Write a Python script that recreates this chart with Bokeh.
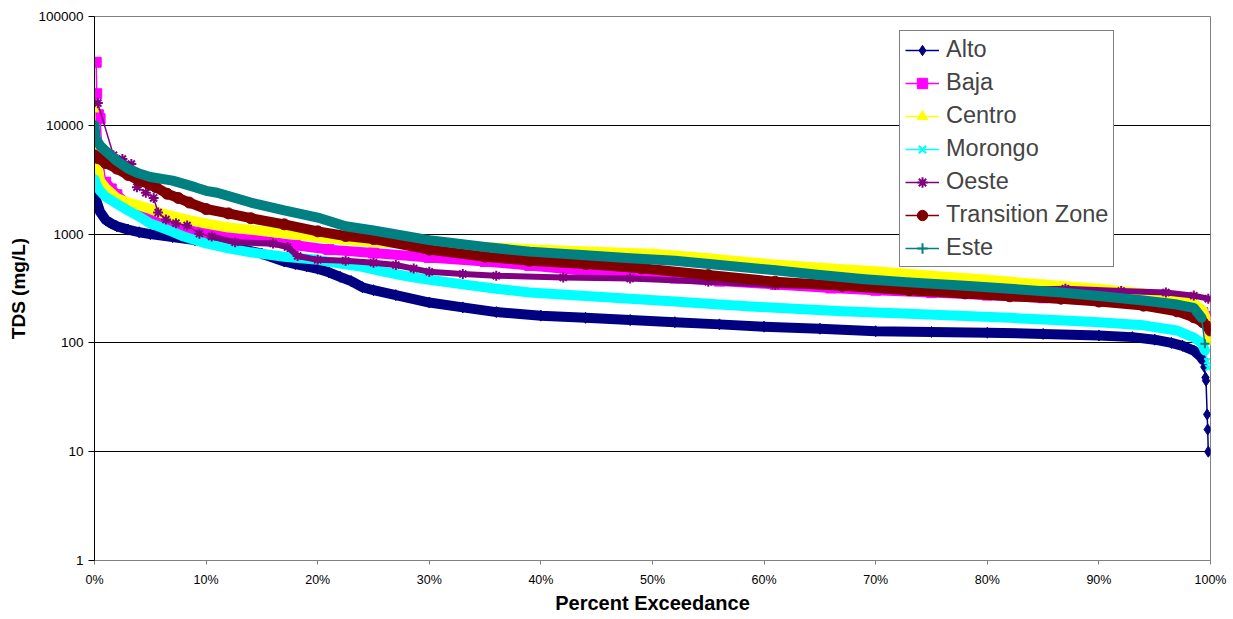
from bokeh.plotting import figure
from bokeh.models import (Range1d, FixedTicker, CustomJSTickFormatter, Legend, LegendItem)
from bokeh.embed import file_html
from bokeh.resources import INLINE

FONT = "Liberation Sans"

# ---------------- data ----------------
series_names = ["Alto", "Baja", "Centro", "Morongo", "Oeste", "Transition Zone", "Este"]

alto_x = [0, 0.15, 0.5, 1, 1.5, 2, 3, 4, 5, 7, 9, 11, 13, 15, 17, 18, 19, 20, 21, 22, 23, 24,
          25, 27, 30, 33, 36, 40, 44, 48, 52, 56, 60, 65, 70, 75, 80, 85, 90, 93, 95, 96.5,
          97.5, 98.5, 99.1, 99.3, 99.45, 99.55, 99.6, 99.7, 99.75, 99.8]
alto_y = [2600, 2050, 1600, 1350, 1250, 1180, 1100, 1040, 1000, 940, 880, 820, 740, 660, 560,
          530, 505, 480, 445, 405, 370, 325, 305, 275, 235, 212, 192, 178, 170, 162, 155, 148,
          141, 135, 128, 126, 124, 121, 117, 113, 107, 100, 94, 85, 75, 70, 60, 48, 45, 22, 16, 10]

baja_x = [0.15, 0.2, 0.35, 0.5, 0.7, 1, 1.5, 2, 3, 4, 5, 6, 8, 10, 12, 15, 18, 21, 25, 30, 35,
          39, 44, 48, 52, 56, 61, 66, 70, 75, 80, 85, 90, 94, 97, 98.5, 99.3, 99.7, 100]
baja_y = [38000, 19500, 12500, 11500, 5000, 3000, 2600, 2300, 1850, 1560, 1350, 1250, 1100,
          1030, 970, 870, 790, 720, 670, 610, 560, 515, 460, 420, 395, 370, 345, 320, 305, 290,
          275, 260, 245, 230, 215, 200, 190, 175, 150]

centro_x = [0, 0.1, 0.2, 0.5, 1, 2, 3, 4, 5, 6, 8, 10, 12, 15, 18, 21, 25, 30, 35, 40, 45, 50,
            55, 60, 65, 70, 75, 80, 85, 90, 94, 97, 98.5, 99.3, 99.7, 100]
centro_y = [14000, 6500, 4400, 3100, 2650, 2150, 1950, 1830, 1700, 1550, 1380, 1250, 1150, 1070,
            990, 910, 840, 800, 760, 720, 690, 660, 600, 535, 490, 455, 415, 380, 345, 315, 285,
            255, 230, 200, 160, 105]

morongo_x = [0, 0.2, 0.5, 1, 2, 3, 4, 5, 6, 7, 8, 10, 12, 14, 17, 20, 22, 24, 26, 28, 30, 33,
             36, 39, 44, 48, 52, 56, 61, 67, 73, 78, 82, 86, 90, 94, 97, 98.5, 99.2, 99.5, 99.7,
             99.8]
morongo_y = [3200, 2800, 2500, 2200, 1900, 1650, 1450, 1250, 1150, 1050, 950, 820, 740, 680,
             620, 580, 535, 500, 450, 410, 380, 345, 315, 290, 270, 255, 240, 225, 210, 195, 185,
             177, 170, 162, 155, 145, 130, 112, 100, 85, 68, 59]

oeste_x = [0.3, 1.7, 2.5, 3.3, 3.8, 4.6, 5.3, 5.7, 6.4, 7.3, 8.3, 9.4, 10.5, 12.6, 16, 17.3,
           18.2, 20, 22.5, 25, 27, 28.6, 30, 33, 36, 42, 48, 55, 61, 70, 80, 87, 92, 96, 98.5,
           99.8]
oeste_y = [16000, 5300, 4900, 4400, 2700, 2400, 2150, 1580, 1360, 1260, 1200, 1010, 950, 840,
           820, 760, 630, 580, 570, 545, 520, 482, 450, 430, 415, 400, 390, 365, 340, 320, 305,
           315, 300, 290, 272, 255]

trans_x = [0, 0.3, 1, 2, 3, 4, 5, 5.5, 6.5, 7.5, 8.5, 10, 12, 14, 17, 20, 22.5, 25, 30, 35,
           39, 44, 49, 55, 61, 67, 73, 78, 82, 86.6, 90, 94, 97, 98.5, 99.3, 99.8, 100]
trans_y = [5300, 5000, 4500, 4000, 3500, 3100, 2850, 2700, 2350, 2150, 1950, 1700, 1550, 1400,
           1230, 1060, 960, 900, 720, 620, 570, 530, 485, 420, 365, 335, 305, 285, 268, 255,
           240, 220, 195, 172, 155, 140, 130]

este_x = [0, 0.1, 0.5, 1, 2, 3, 4, 5, 7, 9, 10, 11, 14, 17, 20, 22.5, 25, 30, 35, 39, 44, 48,
          52, 56, 61, 65, 69, 73, 78, 82, 86.6, 90, 94, 97, 98.5, 99.2, 99.5]
este_y = [10000, 7600, 6500, 5800, 4700, 4000, 3600, 3350, 3100, 2700, 2500, 2400, 1950, 1650,
          1420, 1180, 1080, 880, 760, 690, 640, 600, 570, 520, 465, 420, 385, 360, 335, 315, 290,
          270, 245, 225, 210, 170, 98]

y_ticks = [1, 10, 100, 1000, 10000, 100000]
x_ticks = [0, 10, 20, 30, 40, 50, 60, 70, 80, 90, 100]

# ---------------- styling ----------------
colors = ["#000080", "#FF00FF", "#FFFF00", "#00FFFF", "#800080", "#800000", "#008080"]
markers = ["diamond", "square", "triangle", "x", "asterisk", "circle", "cross"]
msizes = [11, 10, 9, 8, 10, 11, 9]
# (start, end) of the part of each curve drawn as the dense marker band
band_slices = [(0, -6), (5, None), (2, None), (0, -2), (12, None), (0, None), (0, -1)]

xs = [alto_x, baja_x, centro_x, morongo_x, oeste_x, trans_x, este_x]
ys = [alto_y, baja_y, centro_y, morongo_y, oeste_y, trans_y, este_y]

p = figure(width=1233, height=619, output_backend="svg", toolbar_location=None,
           y_axis_type="log", x_range=Range1d(0, 100), y_range=Range1d(1, 100000),
           min_border_left=94, min_border_right=23, min_border_top=16, min_border_bottom=59)
p.background_fill_color = "white"
p.border_fill_color = "white"
p.outline_line_color = "#808080"
p.outline_line_width = 1

items = []
for name, x, y, c, m, s, (a, b) in zip(series_names, xs, ys, colors, markers, msizes, band_slices):
    bw = 6 if name == "Oeste" else 10
    p.line(x[a:b], y[a:b], line_color=c, line_width=bw, line_join="round", line_cap="round")
    ln = p.line(x, y, line_color=c, line_width=1.5)
    lw = 2 if m in ("x", "asterisk", "cross") else 1
    sc = p.scatter(x, y, marker=m, size=s, fill_color=c, line_color=c, line_width=lw)
    items.append(LegendItem(label=name, renderers=[ln, sc]))

# axes
p.yaxis.ticker = FixedTicker(ticks=y_ticks, minor_ticks=[])
p.ygrid.ticker = FixedTicker(ticks=y_ticks, minor_ticks=[])
p.yaxis.formatter = CustomJSTickFormatter(code="return String(Math.round(tick));")
p.xaxis.ticker = FixedTicker(ticks=x_ticks, minor_ticks=[])
p.xaxis.formatter = CustomJSTickFormatter(code="return Math.round(tick) + '%';")
p.xgrid.visible = False
p.ygrid.grid_line_color = "#000000"
p.ygrid.grid_line_width = 1

for ax in (p.xaxis, p.yaxis):
    ax.major_label_text_font = FONT
    ax.major_label_text_color = "#000000"
    ax.axis_label_text_font = FONT
    ax.axis_label_text_font_style = "bold"
    ax.axis_label_text_color = "#000000"
    ax.minor_tick_line_color = None
    ax.major_tick_in = 0

p.xaxis.axis_label = "Percent Exceedance"
p.xaxis.axis_label_text_font_size = "20px"
p.xaxis.major_label_text_font_size = "12.5px"
p.xaxis.axis_line_color = "#808080"
p.xaxis.major_tick_line_color = "#808080"
p.xaxis.major_tick_out = 4
p.xaxis.major_label_standoff = 8
p.xaxis.axis_label_standoff = 2

p.yaxis.axis_label = "TDS (mg/L)"
p.yaxis.axis_label_text_font_size = "19px"
p.yaxis.major_label_text_font_size = "13.5px"
p.yaxis.axis_line_color = "#000000"
p.yaxis.major_tick_line_color = "#000000"
p.yaxis.major_tick_out = 6
p.yaxis.major_label_standoff = 5
p.yaxis.axis_label_standoff = 6

legend = Legend(items=items, location=(805, 293))
legend.border_line_color = "#000000"
legend.border_line_width = 1
legend.background_fill_color = "white"
legend.background_fill_alpha = 1
legend.label_text_font = FONT
legend.label_text_font_size = "23.5px"
legend.glyph_width = 34
legend.glyph_height = 26
legend.label_height = 26
legend.spacing = 6
legend.padding = 5
legend.margin = 0
legend.label_standoff = 7
p.add_layout(legend)

open("out.html", "w").write(file_html(p, INLINE))
